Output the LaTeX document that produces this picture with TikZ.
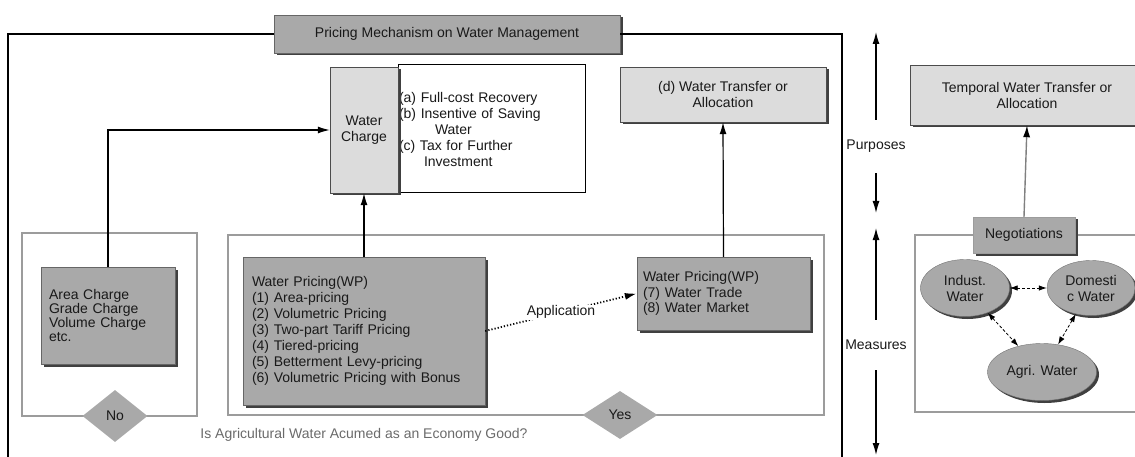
\documentclass[tikz,border=0pt]{standalone}
\usepackage{fontspec}
\setmainfont{Liberation Sans}
\usetikzlibrary{arrows.meta, positioning, calc, shapes.geometric, shadows}

\definecolor{boxgray}{HTML}{A9A9A9}
\definecolor{lightfill}{HTML}{DCDCDC}
\definecolor{grpline}{HTML}{9C9C9C}
\definecolor{txtgray}{HTML}{6A6A6A}

\begin{document}
\begin{tikzpicture}[
    x=1pt, y=-1pt,
    every node/.style={font=\fontsize{14}{16}\selectfont, text=black!90},
    shade/.style={drop shadow={shadow xshift=2.5pt, shadow yshift=-2.5pt, fill=black!75, opacity=1}},
    graybox/.style={rectangle, draw=black!60, fill=boxgray, shade, inner sep=0pt},
    lightbox/.style={rectangle, draw=black!70, fill=lightfill, shade, align=center, inner sep=0pt},
    groupbox/.style={rectangle, draw=grpline, line width=1.4pt, inner sep=0pt},
    decision/.style={diamond, fill=boxgray, inner sep=0pt},
    water/.style={ellipse, draw=black!55, fill=boxgray, shade, align=center, inner sep=0pt},
    frame/.style={line width=1.6pt, black},
    rel/.style={-{Latex[length=12pt, width=7pt]}, line width=1.2pt},
    negorel/.style={-{Latex[length=12pt, width=7pt, color=black]}, line width=1.4pt, draw=black!50},
    applyrel/.style={rel, dotted, line width=1.8pt},
    pairrel/.style={{Latex[length=8pt, width=5.5pt]}-{Latex[length=8pt, width=5.5pt]}, densely dashed, line width=0.8pt},
    sidelabel/.style={minimum width=60pt, inner sep=0pt}
]
\useasboundingbox (0,0) rectangle (1135,457);

% titel und rahmen
\node[graybox, minimum width=346pt, minimum height=38pt] (title) at (447,34) {Pricing Mechanism on Water Management};
\coordinate (frame_bl) at (8,470);
\coordinate (frame_br) at (842,470);
\draw[frame] (title.west) -| (frame_bl);
\draw[frame] (title.east) -| (frame_br);

% zwecke
\node[rectangle, draw=black, line width=1pt, fill=white, minimum width=187pt, minimum height=128pt,
      text width=185pt, align=left, inner sep=0pt] (aims) at (491.5,129)
    {(a) Full-cost Recovery\\(b) Insentive of Saving\\\hspace*{36pt}Water\\(c) Tax for Further\\\hspace*{25pt}Investment};
\node[lightbox, minimum width=68pt, minimum height=126pt] (charge) at (364,130) {Water\\Charge};
\node[lightbox, minimum width=206pt, minimum height=55pt] (transfer) at (723,94.5) {(d) Water Transfer or\\Allocation};
\node[lightbox, minimum width=234pt, minimum height=60pt] (temporal) at (1027,95) {Temporal Water Transfer or\\Allocation};

% massnahmen
\node[groupbox, minimum width=175pt, minimum height=183pt] (nogrp) at (109.5,324.5) {};
\node[groupbox, minimum width=596pt, minimum height=180pt] (yesgrp) at (526,325) {};
\node[groupbox, minimum width=230pt, minimum height=177pt] (negogrp) at (1030,323.5) {};

\node[graybox, minimum width=134pt, minimum height=97pt, text width=118pt, align=left,
      font=\fontsize{14}{14}\selectfont] (area) at (108,315.5)
    {Area Charge\\Grade Charge\\Volume Charge\\etc.};
\node[graybox, minimum width=242pt, minimum height=148pt, text width=224pt, align=left] (wp) at (364,331)
    {Water Pricing(WP)\\(1) Area-pricing\\(2) Volumetric Pricing\\(3) Two-part Tariff Pricing\\(4) Tiered-pricing\\(5) Betterment Levy-pricing\\(6) Volumetric Pricing with Bonus};
\node[graybox, minimum width=173pt, minimum height=73pt, text width=161pt, align=left,
      font=\fontsize{14}{15.5}\selectfont] (wpmarket) at (723.5,293.5)
    {Water Pricing(WP)\\(7) Water Trade\\(8) Water Market};

\node[decision, minimum width=65pt, minimum height=52pt] (no) at (115,416) {No};
\node[decision, minimum width=75pt, minimum height=48pt] (yes) at (620,415) {Yes};
\node[text=txtgray] (question) at (364,435) {Is Agricultural Water Acumed as an Economy Good?};

% verhandlung
\node[graybox, draw=grpline, minimum width=102pt, minimum height=36pt] (nego) at (1024,235) {Negotiations};
\node[water, minimum width=89pt, minimum height=57pt] (indust) at (965,288) {Indust.\\Water};
\node[water, minimum width=88pt, minimum height=55pt] (domest) at (1091,288) {Domesti\\c Water};
\node[water, minimum width=109pt, minimum height=57pt] (agri) at (1042,372) {Agri. Water};

% seitenbeschriftung
\node[sidelabel, minimum height=53pt] (purp) at (876,146.5) {Purposes};
\node[sidelabel, minimum height=50pt] (meas) at (876,345) {Measures};
\coordinate (purp_top) at (876,32);
\coordinate (purp_bot) at (876,213);
\coordinate (meas_top) at (876,228);
\coordinate (meas_bot) at (876,455);
\draw[rel] (purp.north) -- (purp_top);
\draw[rel] (purp.south) -- (purp_bot);
\draw[rel] (meas.north) -- (meas_top);
\draw[rel] (meas.south) -- (meas_bot);

% pfeile
\draw[rel] (area.north) |- (charge.west);
\draw[rel] (wp.north) -- (charge.south);
\draw[rel] (wpmarket.north) -- (transfer.south);
\draw[negorel] (nego.north) -- (temporal.south);
\draw[applyrel] (wp.east) -- node[fill=white, inner sep=1pt] {Application} (wpmarket.west);

\foreach \a/\b in {indust/domest, indust/agri, domest/agri} {
    \draw[pairrel] (\a) -- (\b);
}

\end{tikzpicture}
\end{document}
